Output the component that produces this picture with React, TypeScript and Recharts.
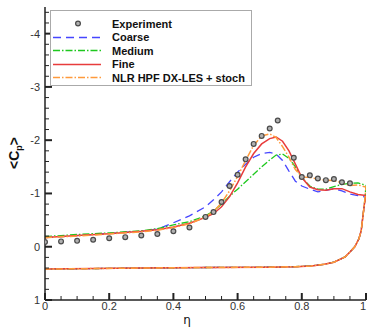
import { ComposedChart, Line, Scatter, XAxis, YAxis } from 'recharts';

// experiment (circles)
const expEta = [0, 0.05, 0.1, 0.15, 0.2, 0.25, 0.3, 0.35, 0.4, 0.45, 0.5, 0.525, 0.55, 0.575, 0.6, 0.625, 0.65, 0.675, 0.7, 0.725, 0.775, 0.8, 0.825, 0.85, 0.875, 0.9, 0.925, 0.95];
const expCp = [-0.09, -0.1, -0.11, -0.13, -0.16, -0.18, -0.21, -0.24, -0.29, -0.36, -0.56, -0.65, -0.84, -1.14, -1.35, -1.64, -1.93, -2.08, -2.22, -2.37, -1.67, -1.31, -1.34, -1.28, -1.25, -1.27, -1.21, -1.19];

// upper surface, shared eta stations
const upperEta = [0, 0.1, 0.2, 0.3, 0.35, 0.4, 0.45, 0.5, 0.525, 0.55, 0.575, 0.6, 0.625, 0.65, 0.675, 0.7, 0.72, 0.74, 0.76, 0.78, 0.8, 0.825, 0.85, 0.875, 0.9, 0.925, 0.95, 0.975, 1.0];
const coarseCp = [-0.17, -0.21, -0.25, -0.29, -0.33, -0.45, -0.58, -0.75, -0.88, -1.03, -1.22, -1.4, -1.55, -1.68, -1.75, -1.77, -1.74, -1.62, -1.42, -1.23, -1.14, -1.08, -1.03, -1.06, -1.09, -1.05, -0.99, -0.96, -0.93];
const mediumCp = [-0.19, -0.23, -0.26, -0.3, -0.34, -0.41, -0.47, -0.58, -0.67, -0.8, -0.95, -1.08, -1.22, -1.36, -1.5, -1.63, -1.72, -1.74, -1.66, -1.5, -1.3, -1.14, -1.08, -1.08, -1.13, -1.17, -1.19, -1.2, -1.15];
const fineCp = [-0.175, -0.21, -0.245, -0.29, -0.32, -0.37, -0.44, -0.55, -0.62, -0.75, -0.94, -1.2, -1.5, -1.75, -1.93, -2.03, -2.06, -1.98, -1.8, -1.55, -1.3, -1.12, -1.07, -1.06, -1.09, -1.09, -1.03, -0.98, -0.96];
const nlrCp = [-0.17, -0.2, -0.24, -0.28, -0.31, -0.36, -0.43, -0.56, -0.66, -0.82, -1.05, -1.32, -1.62, -1.9, -2.08, -2.12, -2.05, -1.88, -1.68, -1.45, -1.31, -1.3, -1.27, -1.25, -1.24, -1.2, -1.15, -1.16, -1.12];

// lower surface, back from trailing edge (same for all runs)
const lowerEta = [0.995, 0.99, 0.985, 0.978, 0.965, 0.95, 0.935, 0.9, 0.87, 0.83, 0.78, 0.7, 0.5, 0.3, 0.15, 0];
const lowerCp = [-0.8, -0.55, -0.3, -0.15, 0, 0.1, 0.19, 0.29, 0.33, 0.36, 0.375, 0.385, 0.39, 0.4, 0.41, 0.42];

const xMajor = [0, 0.2, 0.4, 0.6, 0.8, 1];
const yMajor = [-4, -3, -2, -1, 0, 1];

const minor = (lo: number, hi: number, step: number) => {
  const out: number[] = [];
  for (let v = lo; v <= hi + 1e-9; v += step) out.push(Math.round(v * 100) / 100);
  return out;
};
const xTicks = minor(0, 1, 0.05);
const yTicks = minor(-4.4, 1, 0.2);

const zip = (xs: number[], ys: number[]) => xs.map((x, i) => ({ x, y: ys[i] }));
const loop = (cp: number[]) => [...zip(upperEta, cp), ...zip(lowerEta, lowerCp)];

const series = [
  { name: 'Coarse', data: loop(coarseCp), color: '#4646ff', dash: '8 5', w: 1.3 },
  { name: 'Medium', data: loop(mediumCp), color: '#1ec81e', dash: '7 2 1.5 2', w: 1.3 },
  { name: 'Fine', data: loop(fineCp), color: '#e83c3c', dash: undefined, w: 1.5 },
  { name: 'NLR HPF DX-LES + stoch', data: loop(nlrCp), color: '#ff9a3c', dash: '7 2 1.5 2', w: 1.5 },
];

const AXIS = '#222';

const YTick = (props: any) => {
  const { x, y, payload } = props;
  const major = yMajor.some((v) => Math.abs(v - payload.value) < 1e-6);
  return (
    <g>
      <line x1={x} x2={x + (major ? 7 : 4)} y1={y} y2={y} stroke={AXIS} strokeWidth={major ? 2 : 1} />
      {major && (
        <text x={x - 5} y={y} dy={4} textAnchor="end" fontSize={11} fill="#333" fontFamily="Liberation Sans, Arial">
          {payload.value}
        </text>
      )}
    </g>
  );
};

const XTick = (props: any) => {
  const { x, y, payload } = props;
  const major = xMajor.some((v) => Math.abs(v - payload.value) < 1e-6);
  const last = payload.value >= 1;
  return (
    <g>
      <line x1={x} x2={x} y1={y} y2={y - (major ? 7 : 4)} stroke={AXIS} strokeWidth={major ? 2 : 1} />
      {major && (
        <text x={last ? x : x} y={y + 10} textAnchor={last ? 'end' : 'middle'} fontSize={11} fill="#333" fontFamily="Liberation Sans, Arial">
          {payload.value}
        </text>
      )}
    </g>
  );
};

const ExpDot = (props: any) => (
  <circle cx={props.cx} cy={props.cy} r={2.4} fill="#b0b0b0" stroke="#4a4a4a" strokeWidth={1.2} />
);

const LegendBox = () => (
  <div
    style={{
      position: 'absolute', left: 50, top: 10, width: 200, height: 74,
      border: '1px solid #aaa', background: '#fff',
      fontFamily: 'Liberation Sans, Arial', fontWeight: 'bold', fontSize: 11, color: '#111',
    }}
  >
    {[{ name: 'Experiment' }, ...series].map((s: any, i) => (
      <div key={s.name} style={{ position: 'absolute', left: 0, top: 6 + i * 13.6, height: 13, display: 'flex', alignItems: 'center' }}>
        <svg width={50} height={13} style={{ display: 'block' }}>
          {s.color ? (
            <line x1={2} x2={50} y1={6.5} y2={6.5} stroke={s.color} strokeWidth={s.w} strokeDasharray={s.dash} />
          ) : (
            <circle cx={27} cy={6.5} r={2.4} fill="#b0b0b0" stroke="#4a4a4a" strokeWidth={1.2} />
          )}
        </svg>
        <span style={{ marginLeft: 11, whiteSpace: 'nowrap' }}>{s.name}</span>
      </div>
    ))}
  </div>
);

export default function App() {
  return (
    <div style={{ position: 'absolute', left: 0, top: 0, width: 367, height: 327, background: '#fff' }}>
      <ComposedChart width={367} height={327} margin={{ top: 7, right: 1, bottom: 0, left: 0 }}>
        <XAxis
          type="number" dataKey="x" domain={[0, 1]} ticks={xTicks} interval={0}
          tick={<XTick />} tickLine={false} tickSize={0} tickMargin={0} height={27}
          axisLine={{ stroke: AXIS, strokeWidth: 1.5 }} allowDataOverflow
        />
        <YAxis
          type="number" dataKey="y" domain={[-4.5, 1]} reversed ticks={yTicks} interval={0}
          tick={<YTick />} tickLine={false} tickSize={0} tickMargin={0} width={45}
          axisLine={{ stroke: AXIS, strokeWidth: 1.5 }} allowDataOverflow
        />
        {series.map((s) => (
          <Line
            key={s.name} data={s.data} dataKey="y" type="linear" stroke={s.color}
            strokeWidth={s.w} strokeDasharray={s.dash} dot={false} activeDot={false}
            isAnimationActive={false}
          />
        ))}
        <Scatter data={zip(expEta, expCp)} dataKey="y" shape={<ExpDot />} isAnimationActive={false} />
      </ComposedChart>
      <LegendBox />
      <div
        style={{
          position: 'absolute', left: 15, top: 153, transform: 'translate(-50%, -50%) rotate(-90deg)',
          fontFamily: 'Liberation Sans, Arial', fontWeight: 'bold', fontSize: 14, whiteSpace: 'nowrap', color: '#111',
        }}
      >
        {'<C'}<sub style={{ fontSize: 9 }}>p</sub>{'>'}
      </div>
      <div
        style={{
          position: 'absolute', left: 187, top: 313, transform: 'translateX(-50%)',
          fontFamily: 'DejaVu Sans, sans-serif', fontSize: 12, color: '#111',
        }}
      >
        η
      </div>
    </div>
  );
}
